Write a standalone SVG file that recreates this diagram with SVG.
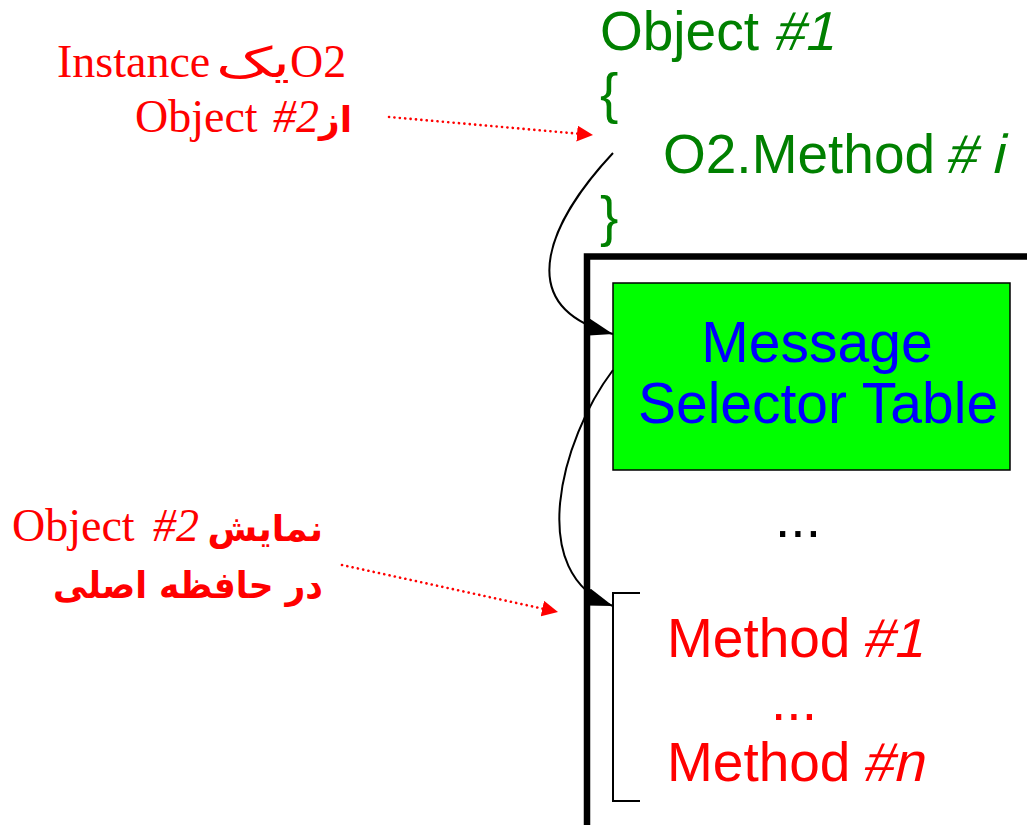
<svg xmlns="http://www.w3.org/2000/svg" width="1027" height="825" viewBox="0 0 1027 825">
  <style>
    .sans { font-family: "Liberation Sans", Arial, sans-serif; font-size: 55px; }
    .big { font-size: 57px; }
    .serif { font-family: "Liberation Serif", "Times New Roman", serif; font-size: 46px; fill: #FF0000; }
    .fa { font-family: "DejaVu Sans", sans-serif; fill: #FF0000; }
    .fa-bold { font-family: "DejaVu Sans", sans-serif; font-weight: bold; fill: #FF0000; }
    .green { fill: #008000; }
    .red { fill: #FF0000; }
    .blue { fill: #0000FF; }
    .it { font-style: italic; }
    .link { fill: none; stroke: #000000; stroke-width: 2; }
    .hint { fill: none; stroke: #FF0000; stroke-width: 2.6; stroke-linecap: round; stroke-dasharray: 0.1 5.3; }
  </style>
  <defs>
    <marker id="arrow-black" markerUnits="userSpaceOnUse" markerWidth="28" markerHeight="18" refX="27" refY="9" orient="auto">
      <path d="M0,0 L27,9 L0,18 Z" fill="#000000"/>
    </marker>
    <marker id="arrow-red" markerUnits="userSpaceOnUse" markerWidth="17" markerHeight="16" refX="16" refY="8" orient="auto">
      <path d="M0,0 L16,8 L0,16 Z" fill="#FF0000"/>
    </marker>
  </defs>

  <rect width="1027" height="825" fill="#FFFFFF"/>

  <!-- source object code; slanted parts are sheared upright glyphs -->
  <g id="object1">
    <text class="sans green" x="600" y="50">Object</text>
    <text class="sans green" transform="translate(773,50) skewX(-13)" x="0" y="0">#1</text>
    <text class="sans green" x="600" y="112">{</text>
    <text class="sans green" x="663" y="173">O2.Method</text>
    <text class="sans green" transform="translate(945,173) skewX(-13)" x="0" y="0"># i</text>
    <text class="sans green" x="600" y="235">}</text>
  </g>

  <!-- memory representation of Object #2 -->
  <g id="object2-memory">
    <path d="M587,830 L587,256.5 L1035,256.5" fill="none" stroke="#000000" stroke-width="6.5"/>
  </g>

  <g id="selector-table">
    <rect x="613" y="283" width="397" height="187" fill="#00FF00" stroke="#000000" stroke-width="1.5"/>
    <text class="sans big blue" x="817" y="362" text-anchor="middle">Message</text>
    <text class="sans big blue" x="818" y="423" text-anchor="middle">Selector Table</text>
  </g>

  <g id="gap">
    <text class="sans" x="798" y="537" text-anchor="middle" fill="#000000">...</text>
  </g>

  <g id="methods">
    <path d="M640,593 L613,593 L613,801 L640,801" fill="none" stroke="#000000" stroke-width="2"/>
    <text class="sans red" x="667" y="657">Method</text>
    <text class="sans red" transform="translate(862,657) skewX(-13)" x="0" y="0">#1</text>
    <text class="sans red" x="794" y="720" text-anchor="middle">...</text>
    <text class="sans red" x="667" y="781">Method</text>
    <text class="sans red" transform="translate(862,781) skewX(-13)" x="0" y="0">#n</text>
  </g>

  <!-- annotations -->
  <g id="label-instance">
    <text class="serif" x="57" y="77">Instance</text>
    <text class="fa" transform="translate(290,77) scale(1.5,1)" x="0" y="0" font-size="42" text-anchor="end">یک</text>
    <text class="serif" x="290" y="77">O2</text>
    <text class="serif" x="135" y="132">Object</text>
    <text class="serif it" x="273" y="132">#2</text>
    <text class="fa-bold" x="352" y="132" font-size="36" text-anchor="end">از</text>
  </g>

  <g id="label-memory">
    <text class="serif" x="12" y="541">Object</text>
    <text class="serif it" x="153" y="541">#2</text>
    <text class="fa-bold" x="323" y="541" font-size="36" text-anchor="end">نمایش</text>
    <text class="fa-bold" transform="translate(323,598) scale(0.93,1)" x="0" y="0" font-size="37" text-anchor="end">در حافظه اصلی</text>
  </g>

  <!-- connectors -->
  <g id="connectors">
    <path class="link" d="M613,153 C555,215 505,305 613,334" marker-end="url(#arrow-black)"/>
    <path class="link" d="M613,370 C560,440 525,575 613,606" marker-end="url(#arrow-black)"/>
    <path class="hint" d="M389,117 L593,135" marker-end="url(#arrow-red)"/>
    <path class="hint" d="M342,565 L558,612" marker-end="url(#arrow-red)"/>
  </g>
</svg>
